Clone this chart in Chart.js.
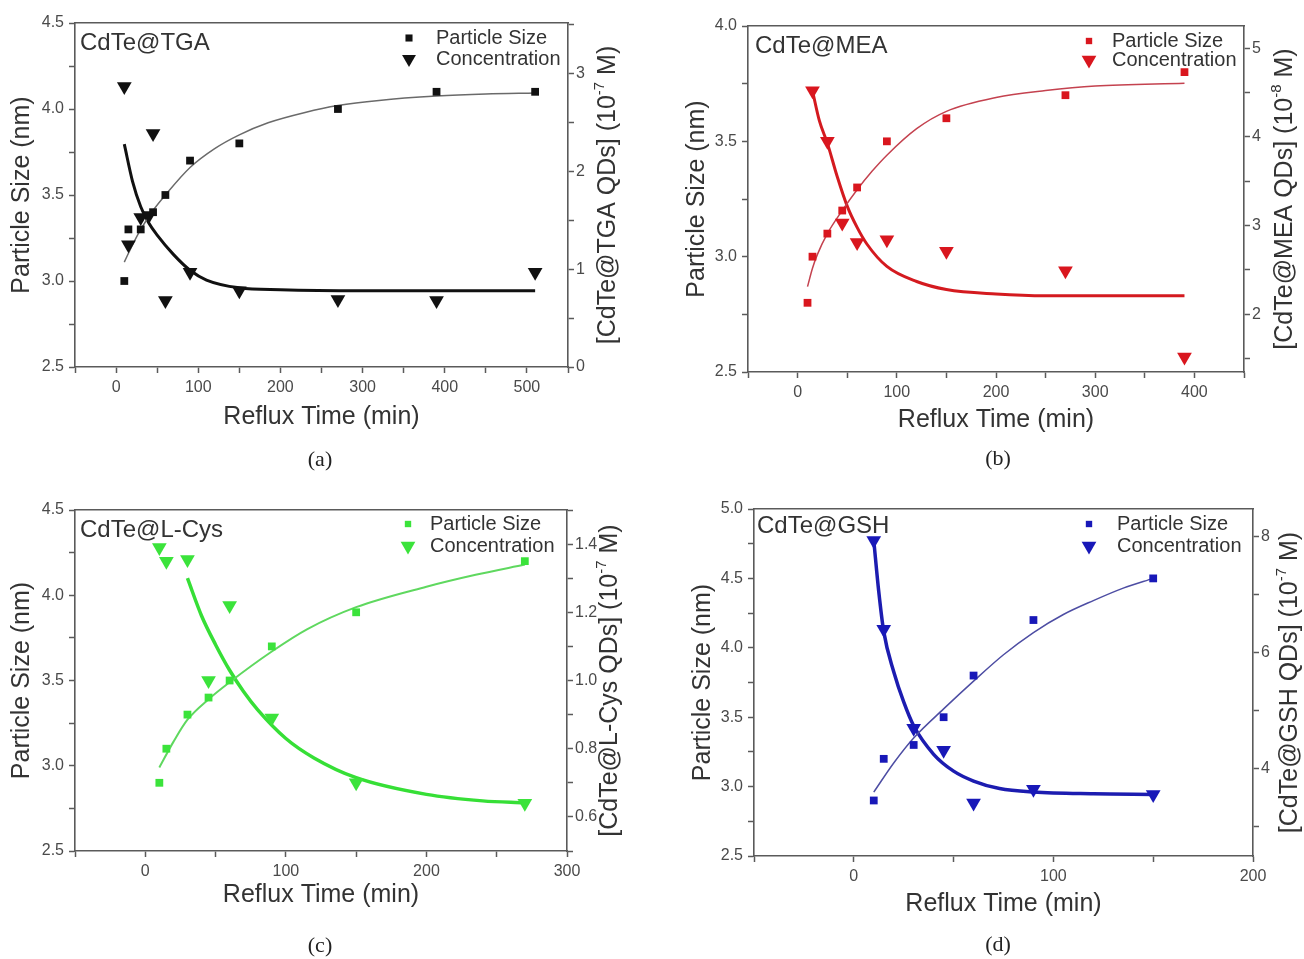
<!DOCTYPE html>
<html>
<head>
<meta charset="utf-8">
<script src="https://cdn.jsdelivr.net/npm/chart.js@4.4.1/dist/chart.umd.min.js"></script>
<style>
  html, body { margin: 0; padding: 0; background: #fff; }
  #page { position: relative; width: 1304px; height: 959px; overflow: hidden; background: #fff; }
  #page canvas { position: absolute; }
  .cap { position: absolute; font-family: "Liberation Serif", "Times New Roman", serif; font-size: 22px; color: #222;
         transform: translate(-50%, -50%); white-space: nowrap; }
</style>
</head>
<body>
<div id="page">
  <canvas id="chartA" width="652" height="479" style="left:0;top:0"></canvas>
  <canvas id="chartB" width="652" height="479" style="left:652px;top:0"></canvas>
  <canvas id="chartC" width="652" height="480" style="left:0;top:479px"></canvas>
  <canvas id="chartD" width="652" height="480" style="left:652px;top:479px"></canvas>
  <div class="cap" style="left:320px;top:459px">(a)</div>
  <div class="cap" style="left:998px;top:458px">(b)</div>
  <div class="cap" style="left:320px;top:945px">(c)</div>
  <div class="cap" style="left:998px;top:944px">(d)</div>
</div>
<script>
// ---------- (a) CdTe@TGA ----------
const tgaSizeTime = [10, 15, 30, 45, 60, 90, 150, 270, 390, 510];
const tgaSize     = [3.0, 3.3, 3.3, 3.4, 3.5, 3.7, 3.8, 4.0, 4.1, 4.1];
const tgaConcTime = [10, 15, 30, 40, 45, 60, 90, 150, 270, 390, 510];
const tgaConc     = [2.87, 1.25, 1.53, 1.55, 2.39, 0.68, 0.97, 0.78, 0.69, 0.68, 0.97];
const tgaSizeFitTime = [10, 20, 30, 45, 60, 90, 120, 150, 185, 230, 270, 320, 390, 450, 510];
const tgaSizeFit     = [3.11, 3.21, 3.30, 3.41, 3.50, 3.66, 3.77, 3.85, 3.92, 3.98, 4.02, 4.05, 4.075, 4.087, 4.093];
const tgaConcFitTime = [10, 20, 30, 40, 50, 70, 90, 110, 150, 200, 300, 400, 510];
const tgaConcFit     = [2.28, 1.90, 1.64, 1.47, 1.35, 1.15, 0.99, 0.89, 0.81, 0.79, 0.78, 0.78, 0.78];

// ---------- (b) CdTe@MEA ----------
const meaSizeTime = [10, 15, 30, 45, 60, 90, 150, 270, 390];
const meaSize     = [2.8, 3.0, 3.1, 3.2, 3.3, 3.5, 3.6, 3.7, 3.8];
const meaConcTime = [15, 30, 45, 60, 90, 150, 270, 390];
const meaConc     = [4.52, 3.95, 3.03, 2.81, 2.84, 2.71, 2.49, 1.52];
const meaSizeFitTime = [10, 15, 20, 30, 45, 60, 75, 90, 120, 150, 200, 250, 300, 390];
const meaSizeFit     = [2.87, 2.95, 3.01, 3.10, 3.20, 3.29, 3.37, 3.44, 3.555, 3.63, 3.69, 3.72, 3.74, 3.752];
const meaConcFitTime = [15, 22, 30, 40, 50, 60, 70, 90, 120, 150, 200, 250, 300, 390];
const meaConcFit     = [4.52, 4.18, 3.93, 3.55, 3.22, 2.98, 2.79, 2.54, 2.37, 2.28, 2.23, 2.21, 2.21, 2.21];

// ---------- (c) CdTe@L-Cys ----------
const cysSizeTime = [10, 15, 30, 45, 60, 90, 150, 270];
const cysSize     = [2.9, 3.1, 3.3, 3.4, 3.5, 3.7, 3.9, 4.2];
const cysConcTime = [10, 15, 30, 45, 60, 90, 150, 270];
const cysConc     = [1.39, 1.35, 1.355, 1.0, 1.22, 0.89, 0.70, 0.64];
const cysSizeFitTime = [10, 20, 30, 45, 60, 90, 115, 150, 200, 235, 270];
const cysSizeFit     = [2.99, 3.14, 3.27, 3.39, 3.49, 3.67, 3.80, 3.93, 4.05, 4.12, 4.18];
const cysConcFitTime = [30, 40, 50, 60, 70, 80, 100, 120, 150, 200, 240, 270];
const cysConcFit     = [1.30, 1.19, 1.105, 1.03, 0.967, 0.914, 0.83, 0.773, 0.715, 0.666, 0.647, 0.641];

// ---------- (d) CdTe@GSH ----------
const gshSizeTime = [10, 15, 30, 45, 60, 90, 150];
const gshSize     = [2.9, 3.2, 3.3, 3.5, 3.8, 4.2, 4.5];
const gshConcTime = [10, 15, 30, 45, 60, 90, 150];
const gshConc     = [7.93, 6.40, 4.70, 4.32, 3.41, 3.65, 3.56];
const gshSizeFitTime = [10, 20, 30, 45, 60, 75, 90, 105, 120, 135, 150];
const gshSizeFit     = [2.96, 3.17, 3.35, 3.56, 3.76, 3.95, 4.11, 4.24, 4.34, 4.43, 4.50];
const gshConcFitTime = [10, 12.5, 15, 20, 25, 30, 40, 50, 60, 73, 90, 120, 150];
const gshConcFit     = [7.93, 7.05, 6.36, 5.67, 5.15, 4.74, 4.25, 3.96, 3.79, 3.66, 3.60, 3.57, 3.56];

// ---------- axis ranges ----------
const xRangeA = [-50, 550], xRangeB = [-50, 450], xRangeC = [-50, 300], xRangeD = [-50, 200];
const sizeRangeA = [2.5, 4.5], sizeRangeB = [2.5, 4.0], sizeRangeC = [2.5, 4.5], sizeRangeD = [2.5, 5.0];
const concRangeA = [0, 3.52], concRangeB = [1.35, 5.25], concRangeC = [0.5, 1.5], concRangeD = [2.5, 8.47];

// ---------- shared styling ----------
const FONT = '"Liberation Sans", Arial, Helvetica, sans-serif';
const AXIS = '#5a5a5a';
const TEXT = '#333';
const TICKTEXT = '#4a4a4a';

const pts = (xs, ys) => xs.map((x, i) => ({ x: x, y: ys[i] }));

// Panel label, in-plot legend and the bottom-to-top right axis title.
const panelDecor = {
  id: 'panelDecor',
  afterDatasetsDraw(chart, args, o) {
    const ctx = chart.ctx, ca = chart.chartArea;
    ctx.save();
    ctx.fillStyle = TEXT;
    ctx.textBaseline = 'middle';
    ctx.textAlign = 'left';
    ctx.font = '24px ' + FONT;
    ctx.fillText(o.name, ca.left + o.nameDx, ca.top + o.nameDy);

    ctx.font = '20px ' + FONT;
    let row = 0;
    chart.data.datasets.forEach(ds => {
      if (ds.showLine !== false) return;
      const mx = ca.right - o.legMarkerDx, my = ca.top + o.legDy[row];
      ctx.fillStyle = ds.backgroundColor;
      ctx.beginPath();
      if (ds.pointStyle === 'rect') {
        const s = Math.SQRT1_2 * o.legSquareR;
        ctx.rect(mx - s, my - s, 2 * s, 2 * s);
      } else {
        const r = o.legTriR, h = r * Math.sin(Math.PI / 3);
        ctx.moveTo(mx, my + r);
        ctx.lineTo(mx - h, my - r / 2);
        ctx.lineTo(mx + h, my - r / 2);
        ctx.closePath();
      }
      ctx.fill();
      ctx.fillStyle = TEXT;
      ctx.fillText(ds.label, ca.right - o.legTextDx, my);
      row++;
    });
    ctx.restore();
  },
  afterDraw(chart, args, o) {
    const ctx = chart.ctx, ca = chart.chartArea;
    const cy = (ca.top + ca.bottom) / 2;
    ctx.save();
    ctx.translate(o.rtX, cy);
    ctx.rotate(-Math.PI / 2);
    ctx.fillStyle = TEXT;
    ctx.textBaseline = 'middle';
    ctx.textAlign = 'left';
    const big = '25px ' + FONT, small = '15px ' + FONT;
    ctx.font = big;  const w1 = ctx.measureText(o.rtHead).width;
    ctx.font = small; const w2 = ctx.measureText(o.rtExp).width;
    ctx.font = big;  const w3 = ctx.measureText(o.rtTail).width;
    let x = -(w1 + w2 + w3) / 2;
    ctx.font = big;   ctx.fillText(o.rtHead, x, 0); x += w1;
    ctx.font = small; ctx.fillText(o.rtExp, x, -8); x += w2;
    ctx.font = big;   ctx.fillText(o.rtTail, x, 0);
    ctx.restore();
  }
};

function tickGrid() {
  return { drawOnChartArea: false, drawTicks: true, tickLength: 6, tickColor: AXIS, tickWidth: 1.5 };
}
function border() { return { display: true, color: AXIS, width: 1.6 }; }

function makeChart(id, p) {
  const lay = p.layout;
  return new Chart(document.getElementById(id), {
    type: 'scatter',
    data: {
      datasets: [
        { label: 'Particle Size', data: pts(p.sizeT, p.size), yAxisID: 'y', showLine: false,
          pointStyle: 'rect', pointRadius: 5.5, pointBorderWidth: 0,
          backgroundColor: p.marker, borderColor: p.marker },
        { label: 'Concentration', data: pts(p.concT, p.conc), yAxisID: 'y2', showLine: false,
          pointStyle: 'triangle', pointRotation: 180, pointRadius: 8.5, pointBorderWidth: 0,
          backgroundColor: p.marker, borderColor: p.marker },
        { label: 'Particle Size fit', data: pts(p.sizeFitT, p.sizeFit), yAxisID: 'y', showLine: true,
          pointRadius: 0, borderColor: p.thin, borderWidth: p.thinW, cubicInterpolationMode: 'monotone' },
        { label: 'Concentration fit', data: pts(p.concFitT, p.concFit), yAxisID: 'y2', showLine: true,
          pointRadius: 0, borderColor: p.thick, borderWidth: p.thickW, cubicInterpolationMode: 'monotone' }
      ]
    },
    plugins: [panelDecor],
    options: {
      responsive: false,
      animation: false,
      events: [],
      layout: { padding: { left: 0, right: 0, top: lay.top, bottom: 0 } },
      plugins: {
        legend: { display: false },
        tooltip: { enabled: false },
        panelDecor: p.decor
      },
      scales: {
        x: {
          type: 'linear', position: 'bottom', min: p.xRange[0], max: p.xRange[1],
          ticks: { stepSize: 50, includeBounds: false, autoSkip: false, maxRotation: 0, padding: 5,
                   color: TICKTEXT, font: { family: FONT, size: 16 },
                   callback: v => (v % 100 === 0 ? String(v) : '') },
          grid: tickGrid(), border: border(),
          title: { display: true, text: 'Reflux Time (min)', color: TEXT, font: { family: FONT, size: 25 },
                   padding: { top: 0, bottom: lay.xTitlePad } },
          afterFit: s => { s.height = lay.xh; }
        },
        xTop: {
          type: 'linear', position: 'top', min: 0, max: 1, display: true,
          ticks: { display: false }, grid: { display: false }, border: border(),
          afterFit: s => { s.height = 0; }
        },
        y: {
          type: 'linear', position: 'left', min: p.sizeRange[0], max: p.sizeRange[1],
          ticks: { stepSize: 0.25, includeBounds: false, autoSkip: false, padding: 5,
                   color: TICKTEXT, font: { family: FONT, size: 16 },
                   callback: v => (Math.abs(v * 2 - Math.round(v * 2)) < 1e-6 ? v.toFixed(1) : '') },
          grid: tickGrid(), border: border(),
          title: { display: true, text: 'Particle Size (nm)', color: TEXT, font: { family: FONT, size: 25 },
                   padding: { top: lay.yTitlePad, bottom: 0 } },
          afterFit: s => { s.width = lay.yw; }
        },
        y2: {
          type: 'linear', position: 'right', min: p.concRange[0], max: p.concRange[1],
          ticks: { stepSize: p.concStep, includeBounds: false, autoSkip: false, padding: 2,
                   color: TICKTEXT, font: { family: FONT, size: 16 },
                   callback: p.concLabel },
          grid: tickGrid(), border: border(),
          afterFit: s => { s.width = lay.y2w; }
        }
      }
    }
  });
}

const intLabel = v => (Math.abs(v - Math.round(v)) < 1e-6 ? String(Math.round(v)) : '');
const evenLabel = v => (Math.abs(v / 2 - Math.round(v / 2)) < 1e-6 ? String(Math.round(v)) : '');
const tenthLabel = v => (Math.round(v * 10) % 2 === 0 ? v.toFixed(1) : '');

makeChart('chartA', {
  sizeT: tgaSizeTime, size: tgaSize, concT: tgaConcTime, conc: tgaConc,
  sizeFitT: tgaSizeFitTime, sizeFit: tgaSizeFit, concFitT: tgaConcFitTime, concFit: tgaConcFit,
  xRange: xRangeA, sizeRange: sizeRangeA, concRange: concRangeA, concStep: 0.5, concLabel: intLabel,
  marker: '#111111', thin: '#6a6a6a', thinW: 1.5, thick: '#111111', thickW: 3,
  layout: { top: 23, yw: 75, y2w: 84, xh: 112, yTitlePad: 7, xTitlePad: 47 },
  decor: { name: 'CdTe@TGA', nameDx: 5, nameDy: 20, legMarkerDx: 159, legTextDx: 132, legDy: [15, 36],
           legSquareR: 5, legTriR: 8, rtX: 608, rtHead: '[CdTe@TGA QDs] (10', rtExp: '-7', rtTail: ' M)' }
});

makeChart('chartB', {
  sizeT: meaSizeTime, size: meaSize, concT: meaConcTime, conc: meaConc,
  sizeFitT: meaSizeFitTime, sizeFit: meaSizeFit, concFitT: meaConcFitTime, concFit: meaConcFit,
  xRange: xRangeB, sizeRange: sizeRangeB, concRange: concRangeB, concStep: 0.5, concLabel: intLabel,
  marker: '#d9161e', thin: '#c4424f', thinW: 1.5, thick: '#d41a1f', thickW: 3,
  layout: { top: 26, yw: 96, y2w: 60, xh: 107, yTitlePad: 30, xTitlePad: 44 },
  decor: { name: 'CdTe@MEA', nameDx: 7, nameDy: 20, legMarkerDx: 155, legTextDx: 132, legDy: [15, 34],
           legSquareR: 4.5, legTriR: 8.5, rtX: 633, rtHead: '[CdTe@MEA QDs] (10', rtExp: '-8', rtTail: ' M)' }
});

makeChart('chartC', {
  sizeT: cysSizeTime, size: cysSize, concT: cysConcTime, conc: cysConc,
  sizeFitT: cysSizeFitTime, sizeFit: cysSizeFit, concFitT: cysConcFitTime, concFit: cysConcFit,
  xRange: xRangeC, sizeRange: sizeRangeC, concRange: concRangeC, concStep: 0.1, concLabel: tenthLabel,
  marker: '#3be33b', thin: '#5fd85f', thinW: 2, thick: '#36df36', thickW: 3.5,
  layout: { top: 31, yw: 75, y2w: 85, xh: 108, yTitlePad: 7, xTitlePad: 49 },
  decor: { name: 'CdTe@L-Cys', nameDx: 5, nameDy: 20, legMarkerDx: 159, legTextDx: 137, legDy: [14, 36],
           legSquareR: 4.5, legTriR: 8.5, rtX: 610, rtHead: '[CdTe@L-Cys QDs] (10', rtExp: '-7', rtTail: ' M)' }
});

makeChart('chartD', {
  sizeT: gshSizeTime, size: gshSize, concT: gshConcTime, conc: gshConc,
  sizeFitT: gshSizeFitTime, sizeFit: gshSizeFit, concFitT: gshConcFitTime, concFit: gshConcFit,
  xRange: xRangeD, sizeRange: sizeRangeD, concRange: concRangeD, concStep: 1, concLabel: evenLabel,
  marker: '#1818b8', thin: '#4d4da3', thinW: 1.5, thick: '#1c1cb0', thickW: 3.5,
  layout: { top: 30, yw: 102, y2w: 51, xh: 103, yTitlePad: 36, xTitlePad: 40 },
  decor: { name: 'CdTe@GSH', nameDx: 3, nameDy: 17, legMarkerDx: 164, legTextDx: 136, legDy: [15, 37],
           legSquareR: 4.5, legTriR: 8.5, rtX: 638, rtHead: '[CdTe@GSH QDs] (10', rtExp: '-7', rtTail: ' M)' }
});
</script>
</body>
</html>
